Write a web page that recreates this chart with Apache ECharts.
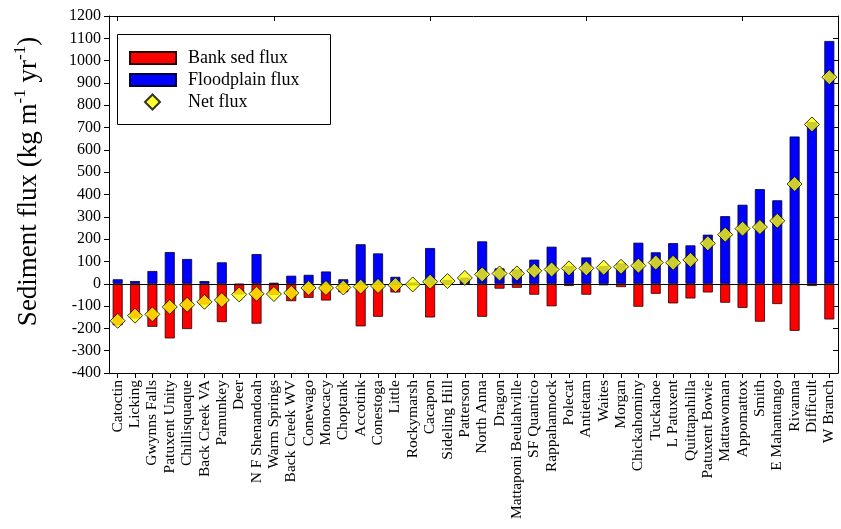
<!DOCTYPE html>
<html>
<head>
<meta charset="utf-8">
<script src="https://cdn.jsdelivr.net/npm/echarts@6/dist/echarts.min.js"></script>
<style>
  html, body { margin: 0; padding: 0; background: #fff; }
  #chart { width: 841px; height: 529px; }
</style>
</head>
<body>
<div id="chart"></div>
<script>
// Streams, ordered by net sediment flux
const sites = [
  'Catoctin', 'Licking', 'Gwynns Falls', 'Patuxent Unity', 'Chillisquaque',
  'Back Creek VA', 'Pamunkey', 'Deer', 'N F Shenandoah', 'Warm Springs',
  'Back Creek WV', 'Conewago', 'Monocacy', 'Choptank', 'Accotink',
  'Conestoga', 'Little', 'Rockymarsh', 'Cacapon', 'Sideling Hill',
  'Patterson', 'North Anna', 'Dragon', 'Mattaponi Beulahville', 'SF Quantico',
  'Rappahannock', 'Polecat', 'Antietam', 'Waites', 'Morgan',
  'Chickahominy', 'Tuckahoe', 'L Patuxent', 'Quittapahilla', 'Patuxent Bowie',
  'Mattawoman', 'Appomattox', 'Smith', 'E Mahantango', 'Rivanna',
  'Difficult', 'W Branch'
];

// Bank sediment flux (kg m-1 yr-1)
const bankFlux = [
  -186, -155, -193, -245, -203,
  -93, -172, -48, -179, -50,
  -78, -63, -75, -38, -191,
  -148, -39, -8, -151, -5,
  -3, -148, -22, -18, -49,
  -101, -10, -49, -7, -15,
  -103, -45, -88, -66, -39,
  -85, -108, -170, -91, -211,
  -10, -160
];

// Floodplain flux (kg m-1 yr-1)
const floodplainFlux = [
  20, 12, 57, 142, 111,
  12, 96, -6, 133, 4,
  36, 40, 55, 20, 177,
  136, 31, 5, 160, 17,
  28, 190, 69, 64, 108,
  166, 79, 118, 79, 91,
  184, 141, 182, 172, 220,
  303, 354, 424, 374, 660,
  724, 1088
];

// Net flux (kg m-1 yr-1)
const netFlux = [
  -166, -143, -137, -104, -94,
  -81, -73, -48, -45, -46,
  -41, -19, -19, -17, -13,
  -10, -6, -3, 9, 12,
  26, 42, 46, 46, 58,
  64, 69, 69, 72, 76,
  81, 95, 94, 107, 181,
  220, 247, 254, 282, 447,
  714, 926
];

const yTicks = { min: -400, max: 1200, step: 100 };

const serif = 'Liberation Serif';
const chart = echarts.init(document.getElementById('chart'), null, { renderer: 'canvas' });

const legendText = { fontFamily: serif, fontSize: 18, color: '#000' };

chart.setOption({
  animation: false,
  backgroundColor: '#fff',
  textStyle: { fontFamily: serif, color: '#000' },
  grid: { left: 109, right: 3, top: 16, bottom: 156, containLabel: false },
  // frame around the legend entries
  graphic: [{
    type: 'rect',
    left: 117, top: 34,
    shape: { width: 213, height: 90 },
    style: { fill: '#fff', stroke: '#000', lineWidth: 1 },
    z: 90
  }],
  legend: [
    {
      orient: 'vertical',
      left: 129,
      top: 49,
      padding: 0,
      itemGap: 4,
      itemWidth: 46,
      itemHeight: 12,
      icon: 'rect',
      textStyle: Object.assign({ padding: [0, 0, 0, 7] }, legendText),
      data: ['Bank sed flux', 'Floodplain flux'],
      z: 100
    },
    {
      orient: 'vertical',
      left: 144,
      top: 93,
      padding: 0,
      itemWidth: 15,
      itemHeight: 15,
      textStyle: Object.assign({ padding: [0, 0, 0, 23] }, legendText),
      data: [{ name: 'Net flux', icon: 'diamond' }],
      z: 100
    }
  ],
  xAxis: [
    {
      type: 'category',
      data: sites,
      position: 'bottom',
      axisLine: { onZero: false, lineStyle: { color: '#000', width: 1 } },
      axisTick: { show: true, alignWithLabel: true, length: 5, lineStyle: { color: '#000' } },
      axisLabel: {
        interval: 0, rotate: 90, fontFamily: serif, fontSize: 15.5, color: '#000', margin: 7
      },
      splitLine: { show: false }
    },
    {
      type: 'category',
      data: sites,
      position: 'top',
      axisLine: { onZero: false, lineStyle: { color: '#000', width: 1 } },
      axisTick: { show: true, inside: true, alignWithLabel: true, length: 5, lineStyle: { color: '#000' } },
      axisLabel: { show: false },
      splitLine: { show: false }
    }
  ],
  yAxis: [
    {
      type: 'value',
      min: yTicks.min,
      max: yTicks.max,
      interval: yTicks.step,
      position: 'left',
      name: 'Sediment flux (kg m{sup|-1} yr{sup|-1})',
      nameLocation: 'middle',
      nameRotate: 90,
      nameGap: 64,
      nameTextStyle: {
        fontFamily: serif, fontSize: 27, color: '#000',
        padding: [0, 0, 0, 26],
        rich: { sup: { fontFamily: serif, fontSize: 17, verticalAlign: 'top', padding: [0, 0, 16, 0] } }
      },
      axisLine: { show: true, lineStyle: { color: '#000', width: 1 } },
      axisTick: { show: true, length: 5, lineStyle: { color: '#000' } },
      axisLabel: {
        fontFamily: serif, fontSize: 16, color: '#000', margin: 8,
        formatter: v => String(v)
      },
      splitLine: { show: false }
    },
    {
      type: 'value',
      min: yTicks.min,
      max: yTicks.max,
      interval: yTicks.step,
      position: 'right',
      axisLine: { show: true, lineStyle: { color: '#000', width: 1 } },
      axisTick: { show: true, inside: true, length: 5, lineStyle: { color: '#000' } },
      axisLabel: { show: false },
      splitLine: { show: false }
    }
  ],
  series: [
    {
      name: 'Bank sed flux',
      type: 'bar',
      data: bankFlux,
      barWidth: 10,
      barGap: '-100%',
      itemStyle: { color: '#ff0000', borderColor: '#2a0000', borderWidth: 0.8 },
      markLine: {
        silent: true,
        symbol: 'none',
        label: { show: false },
        lineStyle: { color: '#000', width: 1, type: 'solid' },
        data: [{ yAxis: 0 }]
      },
      z: 2
    },
    {
      name: 'Floodplain flux',
      type: 'bar',
      data: floodplainFlux,
      barWidth: 10,
      barGap: '-100%',
      itemStyle: { color: '#0000ff', borderColor: '#000033', borderWidth: 0.8 },
      z: 3
    },
    {
      name: 'Net flux',
      type: 'scatter',
      data: netFlux,
      symbol: 'diamond',
      symbolSize: [15, 15],
      itemStyle: { color: '#ffff00', borderColor: '#000', borderWidth: 1 },
      z: 5
    }
  ]
});
</script>
</body>
</html>
